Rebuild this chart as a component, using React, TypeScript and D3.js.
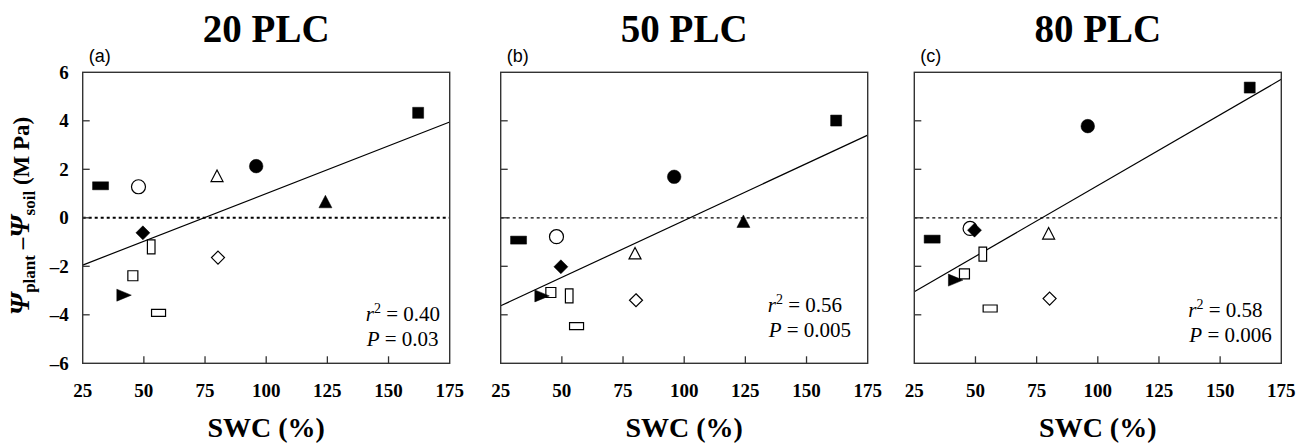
import * as d3 from "d3";

// SWC (%) of each species, shared by the three panels
const swc = [32.3, 47.8, 79.9, 95.9, 124.2, 162.1, 49.6, 53.0, 80.3, 45.5, 41.8, 56.0];
const markers = [
  "filledWideRect", "openCircle", "openTriangle", "filledCircle", "filledTriangle", "filledSquare",
  "filledDiamond", "openTallRect", "openDiamond", "openSquare", "filledRightTriangle", "openWideRect",
];

// psi_plant - psi_soil (MPa) at 20, 50 and 80 PLC
const plc20 = [1.32, 1.28, 1.72, 2.13, 0.66, 4.33, -0.62, -1.2, -1.64, -2.39, -3.19, -3.92];
const plc50 = [-0.92, -0.78, -1.47, 1.69, -0.15, 4.01, -2.02, -3.22, -3.4, -3.08, -3.22, -4.47];
const plc80 = [-0.88, -0.44, -0.65, 3.78, null, 5.37, -0.51, -1.5, -3.33, -2.31, -2.57, -3.74];

// regression line values at SWC = 25 and 175
const fit20 = [-1.95, 3.95];
const fit50 = [-3.63, 3.41];
const fit80 = [-3.05, 5.71];

const titles = ["20 PLC", "50 PLC", "80 PLC"];
const letters = ["(a)", "(b)", "(c)"];
const r2Labels = ["0.40", "0.56", "0.58"];
const pLabels = ["0.03", "0.005", "0.006"];

const xTicks = [25, 50, 75, 100, 125, 150, 175];
const yTicks = [-6, -4, -2, 0, 2, 4, 6];

const SERIF = "'Liberation Serif', serif";
const SANS = "'Liberation Sans', sans-serif";

const panels = [
  { left: 82.7, values: plc20, fit: fit20, statX: 283, statY: 321, zeroW: 2 },
  { left: 500.7, values: plc50, fit: fit50, statX: 267, statY: 312, zeroW: 1.3 },
  { left: 914.3, values: plc80, fit: fit80, statX: 274, statY: 317, zeroW: 1.3 },
];

const W = 367;
const TOP = 72.3;
const BOTTOM = 363.3;

function markerPath(kind: string) {
  switch (kind) {
    case "filledWideRect": return "M-8,-4H8V4H-8Z";
    case "openWideRect": return "M-7,-3.5H7V3.5H-7Z";
    case "openTallRect": return "M-3.8,-7H3.8V7H-3.8Z";
    case "filledSquare": return "M-5.5,-5.5H5.5V5.5H-5.5Z";
    case "openSquare": return "M-5,-5H5V5H-5Z";
    case "filledDiamond": return "M0,-7L7,0L0,7L-7,0Z";
    case "openDiamond": return "M0,-6.5L6.5,0L0,6.5L-6.5,0Z";
    case "filledTriangle": return "M0,-6.5L6.5,6L-6.5,6Z";
    case "openTriangle": return "M0,-6L6,5.5L-6,5.5Z";
    case "filledRightTriangle": return "M7.5,0L-7,-6L-7,6Z";
    case "filledCircle": return d3.arc()({ innerRadius: 0, outerRadius: 6.8, startAngle: 0, endAngle: 2 * Math.PI }) as string;
    case "openCircle": return d3.arc()({ innerRadius: 0, outerRadius: 7, startAngle: 0, endAngle: 2 * Math.PI }) as string;
  }
  return "";
}

function Panel({ idx }: { idx: number }) {
  const p = panels[idx];
  const x = d3.scaleLinear().domain([25, 175]).range([p.left, p.left + W]);
  const y = d3.scaleLinear().domain([-6, 6]).range([BOTTOM, TOP]);
  const line = d3.line<number>().x((_, i) => x(i === 0 ? 25 : 175)).y((d) => y(d));
  const cx = p.left + W / 2;

  return (
    <g>
      <text x={cx} y={42} textAnchor="middle" fontWeight="bold" fontSize={39}>
        {titles[idx]}
      </text>
      <text x={p.left + 6} y={62} style={{ fontFamily: SANS }} fontSize={18}>{letters[idx]}</text>

      {/* zero line */}
      <line x1={x(25)} x2={x(175)} y1={y(0)} y2={y(0)} stroke="#000" strokeWidth={p.zeroW} strokeDasharray="3,3" />

      {/* regression */}
      <path d={line(p.fit) as string} fill="none" stroke="#000" strokeWidth={1.2} />

      {/* ticks, pointing inward */}
      {xTicks.slice(1, -1).map((t) => (
        <line key={"xt" + t} x1={x(t)} x2={x(t)} y1={BOTTOM} y2={BOTTOM - 7} stroke="#333" strokeWidth={1.3} />
      ))}
      {yTicks.slice(1, -1).map((t) => (
        <line key={"yt" + t} x1={p.left} x2={p.left + 7} y1={y(t)} y2={y(t)} stroke="#333" strokeWidth={1.3} />
      ))}
      {xTicks.map((t) => (
        <text key={"xl" + t} x={x(t)} y={397} textAnchor="middle" fontWeight="bold" fontSize={19}>
          {String(t)}
        </text>
      ))}
      {idx === 0 &&
        yTicks.map((t) => (
          <text key={"yl" + t} x={p.left - 14} y={y(t) + 6.5} textAnchor="end" fontWeight="bold" fontSize={19}>
            {t < 0 ? "\u2013" + Math.abs(t) : String(t)}
          </text>
        ))}

      {/* points */}
      {p.values.map((v, i) =>
        v === null ? null : (
          <path
            key={"pt" + i}
            d={markerPath(markers[i])}
            transform={`translate(${x(swc[i])},${y(v)})`}
            fill={markers[i].startsWith("filled") ? "#000" : "#fff"}
            stroke="#000"
            strokeWidth={markers[i].startsWith("filled") ? 0.5 : 1.2}
          />
        )
      )}

      {/* frame */}
      <rect x={p.left} y={TOP} width={W} height={BOTTOM - TOP} fill="none" stroke="#333" strokeWidth={1.4} />

      {/* stats */}
      <text x={p.left + p.statX} y={p.statY} fontSize={21}>
        <tspan fontStyle="italic">r</tspan>
        <tspan fontSize={14} dy={-8}>2</tspan>
        <tspan dy={8}>{" = " + r2Labels[idx]}</tspan>
      </text>
      <text x={p.left + p.statX + 1} y={p.statY + 25} fontSize={21}>
        <tspan fontStyle="italic">P</tspan>
        <tspan>{" = " + pLabels[idx]}</tspan>
      </text>

      <text x={cx} y={437} textAnchor="middle" fontWeight="bold" fontSize={28}>
        SWC (%)
      </text>
    </g>
  );
}

export default function App() {
  return (
    <svg
      width={1306}
      height={445}
      style={{ position: "absolute", left: 0, top: 0, background: "#fff", fontFamily: SERIF }}
    >
      <rect width={1306} height={445} fill="#fff" />
      {panels.map((_, i) => (
        <Panel key={i} idx={i} />
      ))}
      <text transform="translate(29,216) rotate(-90)" textAnchor="middle" fontWeight="bold" fontSize={23}>
        <tspan fontStyle="italic" fontSize={28}>Ψ</tspan>
        <tspan fontSize={17} dy={6}>plant</tspan>
        <tspan dy={-6}>{" \u2013"}</tspan>
        <tspan fontStyle="italic" fontSize={28}>Ψ</tspan>
        <tspan fontSize={17} dy={6}>soil</tspan>
        <tspan dy={-6}>{" (M Pa)"}</tspan>
      </text>
    </svg>
  );
}
